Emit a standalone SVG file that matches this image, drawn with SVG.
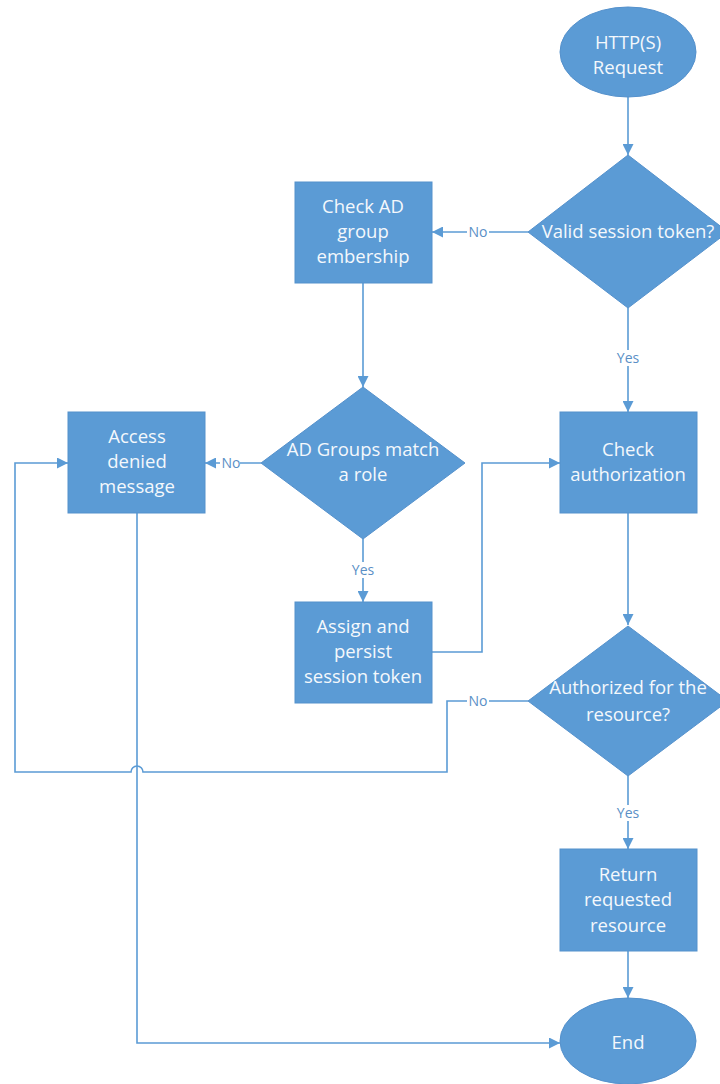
<svg xmlns="http://www.w3.org/2000/svg" width="720" height="1084" viewBox="0 0 720 1084">
<defs>
<style>
.shape{fill:#5B9BD5;stroke:#5591CC;stroke-width:1}
.t{font-family:"Open Sans","Noto Sans","Liberation Sans",sans-serif;font-size:18.5px;fill:#F4F8FC;text-anchor:middle}
.c{fill:none;stroke:#5B9BD5;stroke-width:1.6}
.lbl{font-family:"Open Sans","Noto Sans","Liberation Sans",sans-serif;font-size:14px;fill:#5A8FC6;text-anchor:middle}
.lb{fill:#ffffff}
</style>
<marker id="ah" viewBox="0 0 10 10" refX="10" refY="5" markerWidth="11" markerHeight="11" markerUnits="userSpaceOnUse" orient="auto">
<path d="M0,0 L10,5 L0,10 z" fill="#5B9BD5"/>
</marker>
</defs>
<rect width="720" height="1084" fill="#ffffff"/>
<g id="connectors">
<path class="c" d="M628,97 V155" marker-end="url(#ah)"/>
<path class="c" d="M528,232 H432" marker-end="url(#ah)"/>
<path class="c" d="M363,283 V387" marker-end="url(#ah)"/>
<path class="c" d="M261,463 H205" marker-end="url(#ah)"/>
<path class="c" d="M363,539 V602" marker-end="url(#ah)"/>
<path class="c" d="M432,652 H482 V463 H560" marker-end="url(#ah)"/>
<path class="c" d="M628,308 V412" marker-end="url(#ah)"/>
<path class="c" d="M628,513 V625" marker-end="url(#ah)"/>
<path class="c" d="M528,701 H447 V772 H143 A6,6 0 0 0 131,772 H15 V463 H68" marker-end="url(#ah)"/>
<path class="c" d="M628,776 V849" marker-end="url(#ah)"/>
<path class="c" d="M628,951 V998" marker-end="url(#ah)"/>
<path class="c" d="M137,513 V1043 H560" marker-end="url(#ah)"/>
<rect class="lb" x="467" y="224" width="22" height="16"/>
<text class="lbl" x="478" y="237">No</text>
<rect class="lb" x="220" y="455" width="20" height="16"/>
<text class="lbl" x="231" y="468">No</text>
<rect class="lb" x="349" y="562" width="28" height="16"/>
<text class="lbl" x="363" y="575">Yes</text>
<rect class="lb" x="614" y="350" width="28" height="16"/>
<text class="lbl" x="628" y="363">Yes</text>
<rect class="lb" x="467" y="693" width="22" height="16"/>
<text class="lbl" x="478" y="706">No</text>
<rect class="lb" x="614" y="805" width="28" height="16"/>
<text class="lbl" x="628" y="818">Yes</text>
</g>
<g id="start">
<ellipse class="shape" cx="628" cy="52" rx="68" ry="45"/>
<text class="t" x="628" y="49">HTTP(S)</text>
<text class="t" x="628" y="74">Request</text>
</g>
<g id="valid-token">
<polygon class="shape" points="628,155 728,232 628,308 528,232"/>
<text class="t" x="628" y="238">Valid session token?</text>
</g>
<g id="check-ad">
<rect class="shape" x="295" y="182" width="137" height="101"/>
<text class="t" x="363" y="213">Check AD</text>
<text class="t" x="363" y="238">group</text>
<text class="t" x="363" y="263">embership</text>
</g>
<g id="ad-groups">
<polygon class="shape" points="363,387 465,463 363,539 261,463"/>
<text class="t" x="363" y="456">AD Groups match</text>
<text class="t" x="363" y="481">a role</text>
</g>
<g id="access-denied">
<rect class="shape" x="68" y="412" width="137" height="101"/>
<text class="t" x="137" y="443">Access</text>
<text class="t" x="137" y="468">denied</text>
<text class="t" x="137" y="493">message</text>
</g>
<g id="check-auth">
<rect class="shape" x="560" y="412" width="137" height="101"/>
<text class="t" x="628" y="456">Check</text>
<text class="t" x="628" y="481">authorization</text>
</g>
<g id="assign-token">
<rect class="shape" x="295" y="602" width="137" height="101"/>
<text class="t" x="363" y="633">Assign and</text>
<text class="t" x="363" y="658">persist</text>
<text class="t" x="363" y="683">session token</text>
</g>
<g id="authorized">
<polygon class="shape" points="628,626 728,701 628,776 528,701"/>
<text class="t" x="628" y="694">Authorized for the</text>
<text class="t" x="628" y="721">resource?</text>
</g>
<g id="return-resource">
<rect class="shape" x="560" y="849" width="137" height="102"/>
<text class="t" x="628" y="881">Return</text>
<text class="t" x="628" y="906">requested</text>
<text class="t" x="628" y="932">resource</text>
</g>
<g id="end">
<ellipse class="shape" cx="628" cy="1041" rx="68" ry="43"/>
<text class="t" x="628" y="1049">End</text>
</g>
</svg>
